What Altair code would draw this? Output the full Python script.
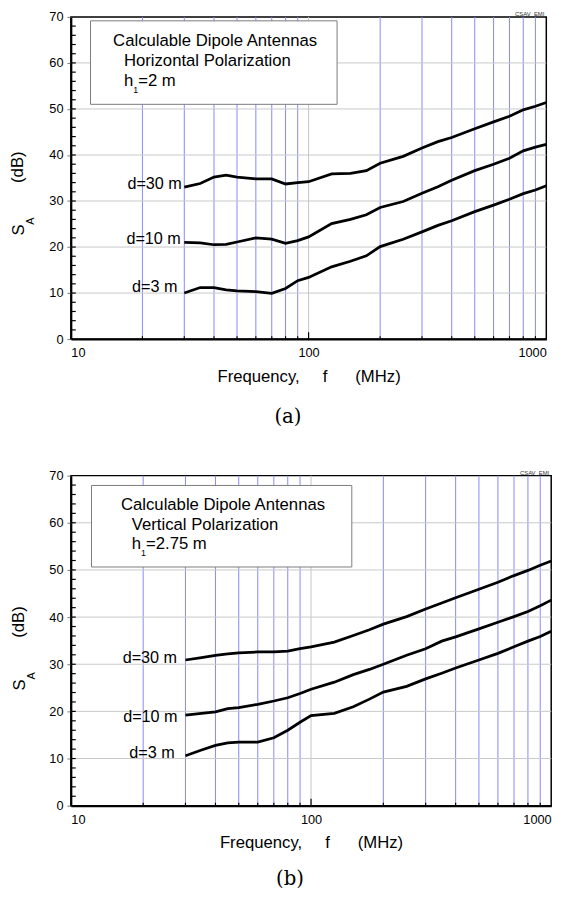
import altair as alt
import pandas as pd

# ---------------- data ----------------
FREQ = [30, 35, 40, 45, 50, 60, 70, 80, 90, 100, 125, 150, 175, 200,
        250, 300, 350, 400, 500, 600, 700, 800, 900, 1000]
SERIES = ["d=30 m", "d=10 m", "d=3 m"]

# (a) Horizontal polarization, h1 = 2 m
H_D30 = [33.0, 33.8, 35.2, 35.6, 35.2, 34.8, 34.8, 33.7, 34.0, 34.2, 35.9, 36.0,
         36.6, 38.2, 39.7, 41.5, 42.9, 43.8, 45.7, 47.2, 48.4, 49.8, 50.6, 51.4]
H_D10 = [21.0, 20.9, 20.5, 20.6, 21.1, 22.0, 21.7, 20.8, 21.4, 22.2, 25.1, 26.0,
         27.0, 28.6, 29.9, 31.7, 33.1, 34.5, 36.6, 38.0, 39.3, 40.9, 41.7, 42.3]
H_D3 = [10.0, 11.2, 11.2, 10.7, 10.5, 10.3, 9.95, 11.0, 12.7, 13.4, 15.7, 16.9,
        18.1, 20.1, 21.7, 23.3, 24.7, 25.7, 27.7, 29.1, 30.4, 31.6, 32.4, 33.3]
H_LABEL_Y = [33.6, 21.7, 11.4]

# (b) Vertical polarization, h1 = 2.75 m
V_D30 = [30.9, 31.4, 31.9, 32.2, 32.4, 32.6, 32.6, 32.8, 33.3, 33.7, 34.7, 36.1,
         37.3, 38.5, 40.1, 41.7, 43.0, 44.1, 45.9, 47.4, 48.8, 49.9, 51.0, 51.9]
V_D10 = [19.2, 19.6, 19.9, 20.6, 20.8, 21.5, 22.2, 22.9, 23.8, 24.7, 26.2, 27.8,
         28.9, 30.0, 31.9, 33.3, 34.9, 35.8, 37.5, 38.9, 40.1, 41.2, 42.4, 43.6]
V_D3 = [10.6, 11.8, 12.8, 13.3, 13.5, 13.5, 14.4, 16.0, 17.7, 19.1, 19.6, 21.0,
        22.6, 24.1, 25.3, 26.9, 28.1, 29.2, 30.9, 32.3, 33.7, 34.9, 35.9, 37.0]
V_LABEL_Y = [31.4, 18.75, 11.1]

MINOR_FREQ = [20, 30, 40, 50, 60, 70, 80, 90, 200, 300, 400, 500, 600, 700, 800, 900]
MAJOR_FREQ = [100]
Y_GRID = [10, 20, 30, 40, 50, 60]
Y_MINOR = list(range(2, 70, 2))
Y_LABELS = [0, 10, 20, 30, 40, 50, 60, 70]
X_LABELS = [10, 100, 1000]

SANS = "Liberation Sans"
SERIF = "DejaVu Serif"
ONE = pd.DataFrame({"k": [0]})


def panel(curves, label_y, label_gaps, pol_text, h_value, tag, W, H, box, txt, ytitle, tagpos):
    xs = alt.Scale(type="log", domain=[10, 1000], nice=False)
    ys = alt.Scale(domain=[0, 70], nice=False, zero=False)
    xax = alt.Axis(values=X_LABELS, format="d", grid=False, ticks=False,
                   domainColor="black", domainWidth=2, labelPadding=8,
                   labelFontSize=13, labelFont=SANS, labelColor="black",
                   title="Frequency,\u00a0\u00a0\u00a0\u00a0\u00a0f\u00a0\u00a0\u00a0\u00a0\u00a0\u00a0(MHz)",
                   titleFont=SANS, titleFontSize=17, titleFontWeight="normal",
                   titleColor="black", titlePadding=9, zindex=1)
    yax = alt.Axis(values=Y_LABELS, grid=False, ticks=True, tickSize=4,
                   tickColor="#777777", domainColor="black", domainWidth=2,
                   labelPadding=4, labelFontSize=13, labelFont=SANS,
                   labelColor="black", title=None, zindex=1)
    X = alt.X("f:Q", scale=xs, axis=xax)
    Y = alt.Y("s:Q", scale=ys, axis=yax)

    rows = []
    for name, vals in zip(SERIES, curves):
        for f, v in zip(FREQ, vals):
            rows.append({"f": f, "s": v, "d": name})
    df = pd.DataFrame(rows)

    layers = []
    # blue minor frequency lines
    layers.append(alt.Chart(pd.DataFrame({"f": MINOR_FREQ})).mark_rule(
        color="#8686ff", strokeWidth=1).encode(x=X))
    # gray grid at 100 MHz
    layers.append(alt.Chart(pd.DataFrame({"f": MAJOR_FREQ})).mark_rule(
        color="#c4c4c4", strokeWidth=1).encode(x=X))
    # gray horizontal gridlines
    layers.append(alt.Chart(pd.DataFrame({"s": Y_GRID})).mark_rule(
        color="#c8c8c8", strokeWidth=1).encode(y=Y))
    # inward ticks on x
    layers.append(alt.Chart(pd.DataFrame({"f": MINOR_FREQ})).mark_rule(
        color="black", strokeWidth=1.2).encode(x=X, y=alt.value(H), y2=alt.value(H - 3)))
    layers.append(alt.Chart(pd.DataFrame({"f": MAJOR_FREQ})).mark_rule(
        color="black", strokeWidth=1.2).encode(x=X, y=alt.value(H), y2=alt.value(H - 7)))
    # inward ticks on y
    layers.append(alt.Chart(pd.DataFrame({"s": Y_MINOR})).mark_rule(
        color="black", strokeWidth=1.2).encode(y=Y, x=alt.value(0), x2=alt.value(5)))
    # legend box
    layers.append(alt.Chart(ONE).mark_rect(fill="white", stroke="#7a7a7a", strokeWidth=1).encode(
        x=alt.value(box[0]), x2=alt.value(box[1]), y=alt.value(box[2]), y2=alt.value(box[3])))

    def text(t, x, y, size=17, align="left", baseline="alphabetic", angle=0, font=SANS, color="black"):
        return alt.Chart(ONE).mark_text(
            text=t, font=font, fontSize=size, align=align, baseline=baseline,
            angle=angle, color=color).encode(x=alt.value(x), y=alt.value(y))

    lx, ly = txt
    layers.append(text("Calculable Dipole Antennas", lx, ly))
    layers.append(text(pol_text, lx + 11, ly + 20))
    layers.append(text("h", lx + 11, ly + 40))
    layers.append(text("1", lx + 20.5, ly + 47, size=9))
    layers.append(text(h_value, lx + 25.5, ly + 40))
    # corner tag
    layers.append(text("CSAV_EMI", W - 2, -0.5, size=6, align="right", color="#333333"))
    # y title (S_A  (dB))
    sx, sy = ytitle
    layers.append(text("S", sx, sy, align="center", baseline="middle", angle=270))
    layers.append(text("A", sx + 12, sy - 9, size=11, align="center", baseline="middle", angle=270))
    layers.append(text("(dB)", sx - 1, sy - 64, align="center", baseline="middle", angle=270))
    # panel tag
    layers.append(text(tag, tagpos[0], tagpos[1], size=20, align="center",
                       baseline="middle", font=SERIF))

    # curves
    layers.append(alt.Chart(df).mark_line(color="black", strokeWidth=2.8).encode(
        x=X, y=Y, detail="d:N"))
    # curve labels
    for name, yv, gap in zip(SERIES, label_y, label_gaps):
        layers.append(alt.Chart(pd.DataFrame({"f": [FREQ[0]], "s": [yv]})).mark_text(
            text=name, font=SANS, fontSize=16.5, align="right", baseline="middle",
            dx=-gap, color="black").encode(x=X, y=Y))

    return alt.layer(*layers).properties(width=W, height=H)


top = panel([H_D30, H_D10, H_D3], H_LABEL_Y, [2.5, 3.5, 7],
            "Horizontal Polarization", "=2 m", "(a)", 484, 328,
            (20, 271, 4, 89), (43, 30), (-53, 217), (221, 407))
bottom = panel([V_D30, V_D10, V_D3], V_LABEL_Y, [8.5, 8, 11],
               "Vertical Polarization", "=2.75 m", "(b)", 489, 336,
               (21, 286, 10, 93), (51, 35), (-52, 213), (223, 411))

chart = alt.vconcat(top, bottom, spacing=42).properties(
    padding={"left": 0, "top": -6, "right": 5, "bottom": 5}
).configure_view(stroke="black", strokeWidth=1.5)

chart.save("out.html", embed_options={"renderer": "svg", "actions": False})
